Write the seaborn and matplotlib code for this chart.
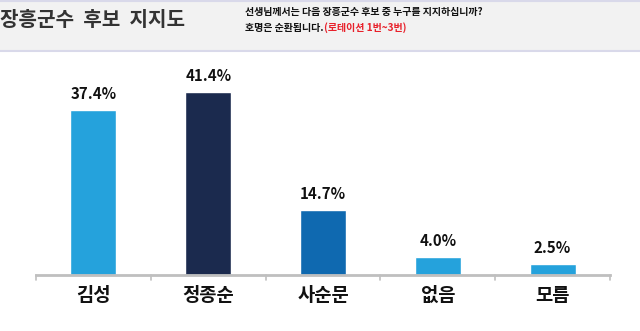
import matplotlib
matplotlib.use("Agg")
import matplotlib.pyplot as plt
import seaborn as sns
import pandas as pd
from matplotlib.patches import Rectangle
from matplotlib.lines import Line2D

categories = ["김성", "정종순", "사순문", "없음", "모름"]
values = [37.4, 41.4, 14.7, 4.0, 2.5]
value_labels = ["37.4%", "41.4%", "14.7%", "4.0%", "2.5%"]
colors = ["#25a2dc", "#1b2a4e", "#0f69b0", "#25a2dc", "#25a2dc"]
title = "장흥군수  후보  지지도"
sub1 = "선생님께서는 다음 장흥군수 후보 중 누구를 지지하십니까?"
sub2a = "호명은 순환됩니다."
sub2b = "(로테이션 1번~3번)"

sns.set_theme(style="white")
plt.rcParams['font.family'] = ['Noto Sans CJK KR', 'DejaVu Sans']

W, H = 640, 331
fig = plt.figure(figsize=(6.4, 3.31), dpi=100)
fig.patch.set_facecolor("white")

# header band
fig.patches.append(Rectangle((0, 1 - 50 / H), 1, 50 / H, transform=fig.transFigure,
                             facecolor="#f2f2f2", edgecolor="none", zorder=0))
fig.lines.append(Line2D([0, 1], [1 - 50.5 / H] * 2, transform=fig.transFigure,
                        color="#d9d9ea", lw=1.5))
fig.lines.append(Line2D([0, 1], [1 - 0.5 / H] * 2, transform=fig.transFigure,
                        color="#d9d9ea", lw=1.5))
fig.text(0 / W, 1 - 19 / H, title, fontsize=14.5, fontweight="bold", color="#333333",
         va="center", ha="left")
fig.text(245 / W, 1 - 12.5 / H, sub1, fontsize=7.2, fontweight="bold", color="#111111",
         va="center", ha="left")
t2 = fig.text(245 / W, 1 - 27.5 / H, sub2a, fontsize=7.2, fontweight="bold", color="#111111",
              va="center", ha="left")
fig.canvas.draw()
bb = t2.get_window_extent()
fig.text(bb.x1 / W, 1 - 27.5 / H, sub2b, fontsize=7.2, fontweight="bold", color="#e8202a",
         va="center", ha="left")

# main axes
x0, x1 = 36, 610
ybase, ytop = 275, 60
ax = fig.add_axes([x0 / W, 1 - ybase / H, (x1 - x0) / W, (ybase - ytop) / H])
df = pd.DataFrame({"cat": categories, "val": values})
sns.barplot(data=df, x="cat", y="val", hue="cat", palette=colors, legend=False,
            width=0.4, ax=ax, saturation=1)
ax.set_xlim(-0.5, len(categories) - 0.5)
ax.set_ylim(0, (ybase - ytop) / 4.41)
ax.set_xlabel("")
ax.set_ylabel("")
ax.set_yticks([])
for s in ["top", "right", "left"]:
    ax.spines[s].set_visible(False)
ax.spines["bottom"].set_color("#bfbfbf")
ax.spines["bottom"].set_linewidth(2)
ax.set_facecolor("none")
ax.set_xticks(range(len(categories)))
ax.set_xticklabels(categories, fontsize=13.5, fontweight="bold", color="#111111")
ax.tick_params(axis="x", length=0, pad=8)
# boundary tick marks
for b in [i - 0.5 for i in range(len(categories) + 1)]:
    ax.plot([b, b], [0, -1.1], color="#bfbfbf", lw=1.2, clip_on=False)
for i, (v, lab) in enumerate(zip(values, value_labels)):
    ax.annotate(lab, (i, v), xytext=(0, 6), textcoords="offset points", ha="center",
                va="bottom", fontsize=10.8, fontweight="bold", color="#111111")

fig.savefig("out.png", dpi=100)
